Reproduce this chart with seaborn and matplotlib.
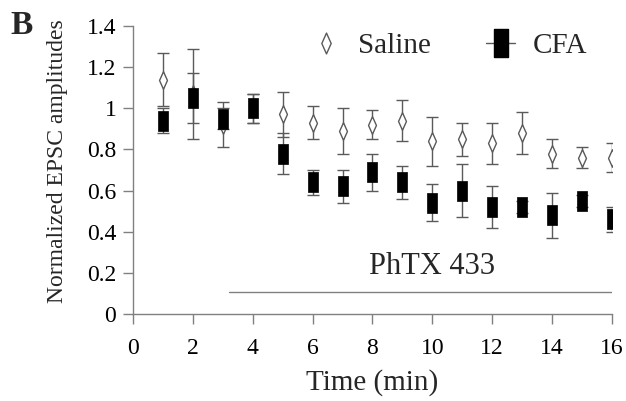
import matplotlib
matplotlib.use("Agg")
import matplotlib.pyplot as plt
from matplotlib.lines import Line2D
from matplotlib.path import Path
import seaborn as sns
import pandas as pd

# data
time = [1, 2, 3, 4, 5, 6, 7, 8, 9, 10, 11, 12, 13, 14, 15, 16]
saline = [1.14, 1.07, 0.92, 1.00, 0.97, 0.93, 0.89, 0.92, 0.94, 0.84, 0.85, 0.83, 0.88, 0.78, 0.76, 0.76]
saline_err = [0.13, 0.22, 0.11, 0.07, 0.11, 0.08, 0.11, 0.07, 0.10, 0.12, 0.08, 0.10, 0.10, 0.07, 0.05, 0.07]
cfa = [0.94, 1.05, 0.95, 1.00, 0.78, 0.64, 0.62, 0.69, 0.64, 0.54, 0.60, 0.52, 0.52, 0.48, 0.55, 0.46]
cfa_err = [0.06, 0.12, 0.05, 0.07, 0.10, 0.06, 0.08, 0.09, 0.08, 0.09, 0.13, 0.10, 0.03, 0.11, 0.03, 0.06]
y_ticks = [0, 0.2, 0.4, 0.6, 0.8, 1.0, 1.2, 1.4]
y_tick_labels = ["0", "0.2", "0.4", "0.6", "0.8", "1", "1.2", "1.4"]

df = pd.DataFrame({"time": time, "saline": saline, "saline_err": saline_err,
                   "cfa": cfa, "cfa_err": cfa_err})

sns.set_style("ticks")
plt.rcParams["font.family"] = ["Liberation Serif", "DejaVu Serif"]

# tall marker shapes as in the original (stretched image)
tall_rect = Path([(-0.5, -1), (0.5, -1), (0.5, 1), (-0.5, 1), (-0.5, -1)],
                 [Path.MOVETO, Path.LINETO, Path.LINETO, Path.LINETO, Path.CLOSEPOLY])
tall_diamond = Path([(0, -1), (0.45, 0), (0, 1), (-0.45, 0), (0, -1)],
                    [Path.MOVETO, Path.LINETO, Path.LINETO, Path.LINETO, Path.CLOSEPOLY])

fig = plt.figure(figsize=(6.26, 4.01), dpi=100)
ax = fig.add_axes([0.2125, 0.217, 0.765, 0.718])

gray = "#5a5a5a"
axis_gray = "#808080"
ax.errorbar(df["time"], df["saline"], yerr=df["saline_err"], fmt="none",
            ecolor=gray, elinewidth=1, capsize=4, capthick=1, zorder=2)
sns.scatterplot(data=df, x="time", y="saline", marker=tall_diamond, s=160,
                facecolor="white", edgecolor=gray, linewidth=1, ax=ax, zorder=3)
ax.errorbar(df["time"], df["cfa"], yerr=df["cfa_err"], fmt="none",
            ecolor=gray, elinewidth=1, capsize=4, capthick=1, zorder=4)
sns.scatterplot(data=df, x="time", y="cfa", marker=tall_rect, s=225,
                color="black", edgecolor="black", linewidth=0.5, ax=ax, zorder=5)

# PhTX application bar
ax.plot([3.2, 16], [0.107, 0.107], color=axis_gray, linewidth=1)
ax.text(10, 0.23, "PhTX 433", ha="center", va="center", fontsize=22)

ax.set_xlim(0, 16)
ax.set_ylim(0, 1.4)
ax.set_xticks(range(0, 17, 2))
ax.set_yticks(y_ticks)
ax.set_yticklabels(y_tick_labels)
ax.tick_params(labelsize=17, labelcolor="black", color=axis_gray, length=7, width=1, pad=5)
ax.tick_params(axis="x", pad=10)
for side in ["left", "bottom"]:
    ax.spines[side].set_color(axis_gray)
    ax.spines[side].set_linewidth(1)
sns.despine(ax=ax)

ax.set_xlabel("Time (min)", fontsize=21)
ax.xaxis.set_label_coords(0.5, -0.19)
ax.set_ylabel("Normalized EPSC amplitudes", fontsize=17)
ax.yaxis.set_label_coords(-0.136, 0.53)

handles = [
    Line2D([], [], linestyle="none", marker=tall_diamond, markersize=15,
           markerfacecolor="white", markeredgecolor=gray),
    Line2D([], [], color=gray, linewidth=1, marker=tall_rect, markersize=20,
           markerfacecolor="black", markeredgecolor="black"),
]
ax.legend(handles, ["Saline", "CFA"], loc="center left",
          bbox_to_anchor=(311 / 626, 1 - 46 / 401), bbox_transform=fig.transFigure,
          ncol=2, frameon=False, fontsize=21, handlelength=1.0, columnspacing=1.9,
          handletextpad=0.6, borderpad=0, borderaxespad=0)

fig.text(0.017, 0.915, "B", fontsize=24, fontweight="bold")

fig.savefig("out.png", dpi=100)
